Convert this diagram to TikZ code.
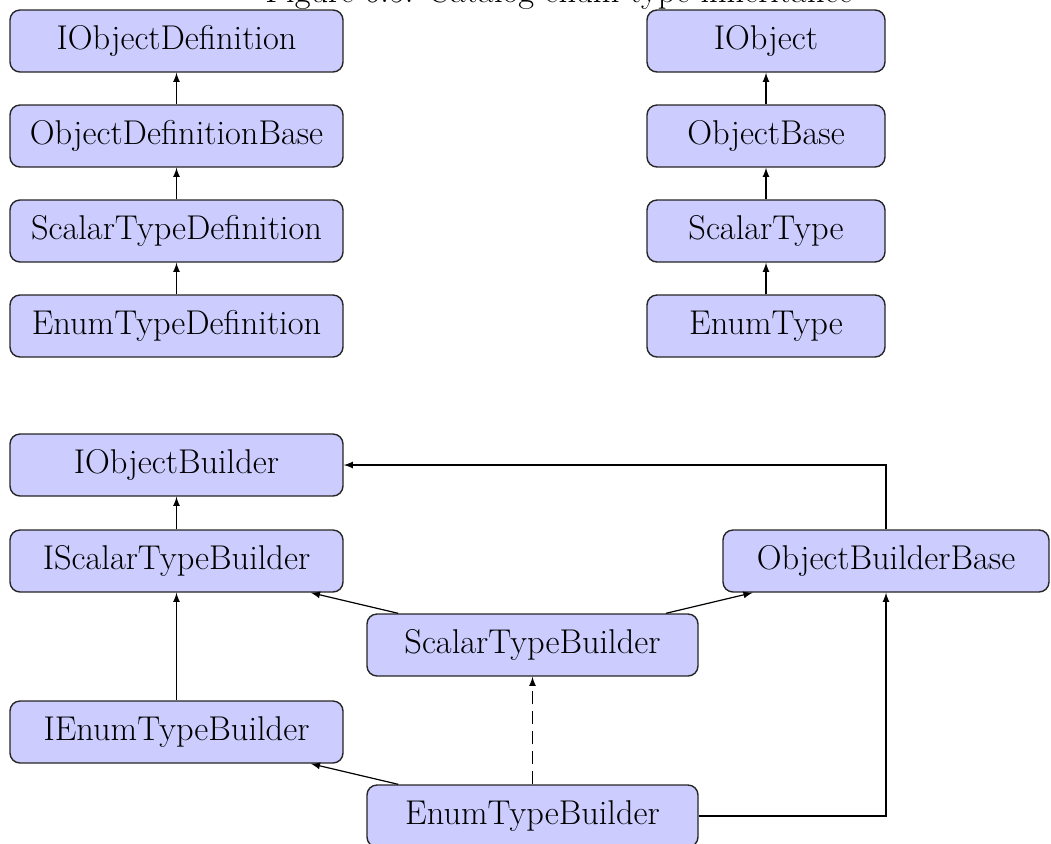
\documentclass[tikz,border=0pt]{standalone}
\usetikzlibrary{arrows}
\begin{document}
\begin{tikzpicture}[x=0.5pt,y=-0.5pt,
  txt/.style={font=\fontsize{17.2}{21}\selectfont},
  cls/.style={txt,draw=black!85,fill=blue!20,rounded corners=5pt,line width=0.7pt,
    inner sep=0pt,minimum height=31pt},
  wideL/.style={cls,minimum width=166.5pt},
  wideR/.style={cls,minimum width=119pt},
  wideM/.style={cls,minimum width=165.5pt},
  wideB/.style={cls,minimum width=163pt},
  inh/.style={-latex,line width=0.6pt},
  impl/.style={inh,dash pattern=on 6.5pt off 3.5pt}]
\useasboundingbox (0,0) rectangle (1051,843);

% caption above the figure
\node[txt,anchor=base,inner sep=0pt] (cap) at (559,2)
  {Figure 6.5: Catalog enum type inheritance};

% definitions hierarchy
\node[wideL] (iod) at (176.5,41) {IObjectDefinition};
\node[wideL] (odb) at (176.5,136) {ObjectDefinitionBase};
\node[wideL] (std) at (176.5,231) {ScalarTypeDefinition};
\node[wideL] (etd) at (176.5,326) {EnumTypeDefinition};

% runtime object hierarchy
\node[wideR] (io) at (766,41) {IObject};
\node[wideR] (ob) at (766,136) {ObjectBase};
\node[wideR] (st) at (766,231) {ScalarType};
\node[wideR] (et) at (766,326) {EnumType};

% builders
\node[wideL] (iob) at (176.5,465) {IObjectBuilder};
\node[wideL] (isb) at (176.5,561) {IScalarTypeBuilder};
\node[wideB] (obb) at (886,561) {ObjectBuilderBase};
\node[wideM] (stb) at (532.5,645) {ScalarTypeBuilder};
\node[wideL] (ieb) at (176.5,732) {IEnumTypeBuilder};
\node[wideM] (etb) at (532.5,816) {EnumTypeBuilder};

\draw[inh] (odb) -- (iod);
\draw[inh] (std) -- (odb);
\draw[inh] (etd) -- (std);
\draw[inh] (ob) -- (io);
\draw[inh] (st) -- (ob);
\draw[inh] (et) -- (st);

\draw[inh] (isb) -- (iob);
\draw[inh] (obb.north) |- (iob.east);
\draw[inh] (stb) -- (isb);
\draw[inh] (stb) -- (obb);
\draw[inh] (ieb) -- (isb);
\draw[inh] (etb) -- (ieb);
\draw[impl] (etb) -- (stb);
\draw[inh] (etb.east) -| (obb.south);
\end{tikzpicture}
\end{document}
